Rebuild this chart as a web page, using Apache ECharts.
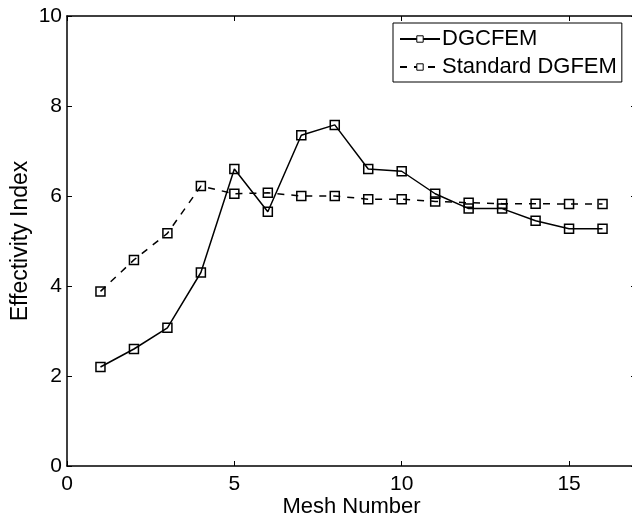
<!DOCTYPE html>
<html>
<head>
<meta charset="utf-8">
<script src="https://cdn.jsdelivr.net/npm/echarts@6/dist/echarts.min.js"></script>
<style>
  html, body { margin: 0; padding: 0; background: #fff; }
  #chart { width: 632px; height: 516px; }
</style>
</head>
<body>
<div id="chart"></div>
<script>
// mesh numbers 1..16
const meshNumbers = [1, 2, 3, 4, 5, 6, 7, 8, 9, 10, 11, 12, 13, 14, 15, 16]
const dgcfem = [2.2, 2.6, 3.07, 4.3, 6.6, 5.65, 7.35, 7.58, 6.6, 6.55, 6.05, 5.72, 5.72, 5.45, 5.27, 5.27]
const standardDgfem = [3.88, 4.58, 5.17, 6.22, 6.05, 6.07, 6.0, 6.0, 5.93, 5.93, 5.88, 5.85, 5.83, 5.83, 5.82, 5.82]
const xTicks = [0, 5, 10, 15]

const font = 'Liberation Sans, Arial, sans-serif'
const fs = 21

const chart = echarts.init(document.getElementById('chart'))

function pairs(ys) {
  return meshNumbers.map((x, i) => [x, ys[i]])
}

const markerStyle = {
  color: 'transparent',
  borderColor: '#000',
  borderWidth: 1.5
}

chart.setOption({
  animation: false,
  backgroundColor: '#fff',
  grid: {
    left: 67,
    right: -4,
    top: 16,
    bottom: 50,
    containLabel: false,
    outerBoundsMode: 'none'
  },
  legend: {
    left: 393,
    top: 23,
    orient: 'vertical',
    backgroundColor: '#fff',
    borderColor: '#000',
    borderWidth: 1,
    padding: [5, 5, 4, 6],
    itemGap: 6,
    itemWidth: 40,
    itemHeight: 8,
    textStyle: { fontFamily: font, fontSize: 22, color: '#000', padding: [0, 0, 0, -3] },
    data: [
      { name: 'DGCFEM', itemStyle: { color: '#fff', borderColor: '#000', borderWidth: 1 } },
      { name: 'Standard DGFEM', itemStyle: { color: '#fff', borderColor: '#000', borderWidth: 1 } }
    ]
  },
  xAxis: [
    {
      type: 'value',
      min: 0,
      max: 17,
      interval: 5,
      name: 'Mesh Number',
      nameLocation: 'middle',
      nameGap: 30,
      nameMoveOverlap: false,
      nameTextStyle: { fontFamily: font, fontSize: 22, color: '#000' },
      axisLine: { onZero: false, lineStyle: { color: '#000', width: 1.5 } },
      axisTick: { inside: true, length: 5, lineStyle: { color: '#000' } },
      axisLabel: {
        fontFamily: font, fontSize: fs, color: '#000', margin: 8,
        formatter: v => (xTicks.includes(v) ? String(v) : '')
      },
      splitLine: { show: false }
    },
    {
      type: 'value',
      position: 'top',
      min: 0,
      max: 17,
      interval: 5,
      axisLine: { onZero: false, lineStyle: { color: '#000', width: 1.5 } },
      axisTick: { inside: true, length: 5, lineStyle: { color: '#000' } },
      axisLabel: { show: false },
      splitLine: { show: false }
    }
  ],
  yAxis: [
    {
      type: 'value',
      min: 0,
      max: 10,
      interval: 2,
      name: 'Effectivity Index',
      nameLocation: 'middle',
      nameGap: 35,
      nameMoveOverlap: false,
      nameTextStyle: { fontFamily: font, fontSize: 23, color: '#000' },
      axisLine: { show: true, onZero: false, lineStyle: { color: '#000', width: 1.5 } },
      axisTick: { show: true, inside: true, length: 5, lineStyle: { color: '#000' } },
      axisLabel: { fontFamily: font, fontSize: fs, color: '#000', margin: 5 },
      splitLine: { show: false }
    },
    {
      type: 'value',
      position: 'right',
      min: 0,
      max: 10,
      interval: 2,
      axisLine: { show: true, onZero: false, lineStyle: { color: '#000', width: 1.5 } },
      axisTick: { show: true, inside: true, length: 5, lineStyle: { color: '#000' } },
      axisLabel: { show: false },
      splitLine: { show: false }
    }
  ],
  series: [
    {
      name: 'DGCFEM',
      type: 'line',
      data: pairs(dgcfem),
      symbol: 'rect',
      symbolSize: 9,
      itemStyle: markerStyle,
      lineStyle: { color: '#000', width: 1.5, type: 'solid' },
      z: 3
    },
    {
      name: 'Standard DGFEM',
      type: 'line',
      data: pairs(standardDgfem),
      symbol: 'rect',
      symbolSize: 9,
      itemStyle: markerStyle,
      lineStyle: { color: '#000', width: 1.5, type: [7, 7] },
      z: 2
    }
  ]
})
</script>
</body>
</html>
